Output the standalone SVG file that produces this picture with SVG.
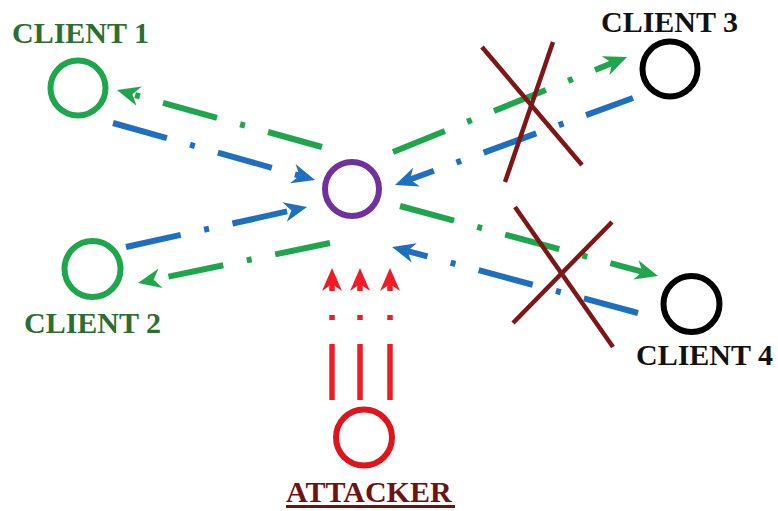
<svg xmlns="http://www.w3.org/2000/svg" width="778" height="511" viewBox="0 0 778 511">
  <style>
    .node { fill: none; stroke-width: 6; }
    .label { font-family: "Liberation Serif", "Times New Roman", serif; font-weight: bold; font-size: 30px; }
    .flow { fill: none; stroke-width: 6; stroke-dasharray: 56 24 5 24; stroke-linecap: butt; }
    .green { stroke: #1fa64c; marker-end: url(#head-green); }
    .blue { stroke: #1f6fc0; marker-end: url(#head-blue); }
    .red { stroke: #ee1c24; stroke-width: 5.5; marker-end: url(#head-red); }
    .cross { stroke: #7d1616; stroke-width: 4.5; stroke-linecap: butt; }
  </style>
  <defs>
    <marker id="head-green" viewBox="0 -11 24 22" markerUnits="userSpaceOnUse" markerWidth="24" markerHeight="22" refX="7" refY="0" orient="auto">
      <path d="M0,-10 L23,0 L0,10 L7,0 Z" fill="#1fa64c"/>
    </marker>
    <marker id="head-blue" viewBox="0 -11 24 22" markerUnits="userSpaceOnUse" markerWidth="24" markerHeight="22" refX="7" refY="0" orient="auto">
      <path d="M0,-10 L23,0 L0,10 L7,0 Z" fill="#1f6fc0"/>
    </marker>
    <marker id="head-red" viewBox="0 -11 24 22" markerUnits="userSpaceOnUse" markerWidth="24" markerHeight="22" refX="7" refY="0" orient="auto">
      <path d="M0,-10 L23,0 L0,10 L7,0 Z" fill="#ee1c24"/>
    </marker>
  </defs>
  <rect width="778" height="511" fill="#ffffff"/>

  <!-- traffic between the server and its clients, and the attacker's flood -->
  <g id="connectors">
    <path class="flow blue" d="M113,123 L299.6,175.6"/>
    <path class="flow green" d="M322,147 L132.4,94.3"/>
    <path class="flow blue" d="M126,247 L291.4,210.5"/>
    <path class="flow green" d="M330,243 L153.7,279.7"/>
    <path class="flow green" d="M393,152 L612.2,63"/>
    <path class="flow blue" d="M633,98 L410,179.5" stroke-dashoffset="6"/>
    <path class="flow green" d="M400,206 L642.6,271.8"/>
    <path class="flow blue" d="M638,313 L407.5,251.1"/>
    <path class="flow red" d="M332,400 L332,284"/>
    <path class="flow red" d="M360,400 L360,284"/>
    <path class="flow red" d="M390,400 L390,284"/>
  </g>

  <!-- links that no longer get through -->
  <g id="blocked">
    <line class="cross" x1="482" y1="47" x2="582" y2="165"/>
    <line class="cross" x1="553" y1="42" x2="505" y2="182"/>
    <line class="cross" x1="515" y1="207" x2="613" y2="347"/>
    <line class="cross" x1="612" y1="222" x2="513" y2="323"/>
  </g>

  <g id="server">
    <circle class="node" cx="352" cy="189" r="27" stroke="#7030a0"/>
  </g>

  <g id="client1">
    <circle class="node" cx="78" cy="88" r="27.5" stroke="#1fa64c"/>
    <text class="label" x="12" y="43" fill="#2b6e2f">CLIENT 1</text>
  </g>

  <g id="client2">
    <circle class="node" cx="92.5" cy="269" r="28" stroke="#1fa64c"/>
    <text class="label" x="24" y="333" fill="#2b6e2f">CLIENT 2</text>
  </g>

  <g id="client3">
    <circle class="node" cx="670" cy="69" r="27.5" stroke="#000000"/>
    <text class="label" x="601" y="32" fill="#111111">CLIENT 3</text>
  </g>

  <g id="client4">
    <circle class="node" cx="691.5" cy="304" r="28" stroke="#000000"/>
    <text class="label" x="636" y="365" fill="#111111">CLIENT 4</text>
  </g>

  <g id="attacker">
    <circle class="node" cx="364" cy="437.5" r="28" stroke="#e0141c"/>
    <text class="label" x="286" y="502" fill="#6e1212">ATTACKER</text>
    <line x1="286" y1="506.5" x2="455" y2="506.5" stroke="#6e1212" stroke-width="3"/>
  </g>
</svg>
